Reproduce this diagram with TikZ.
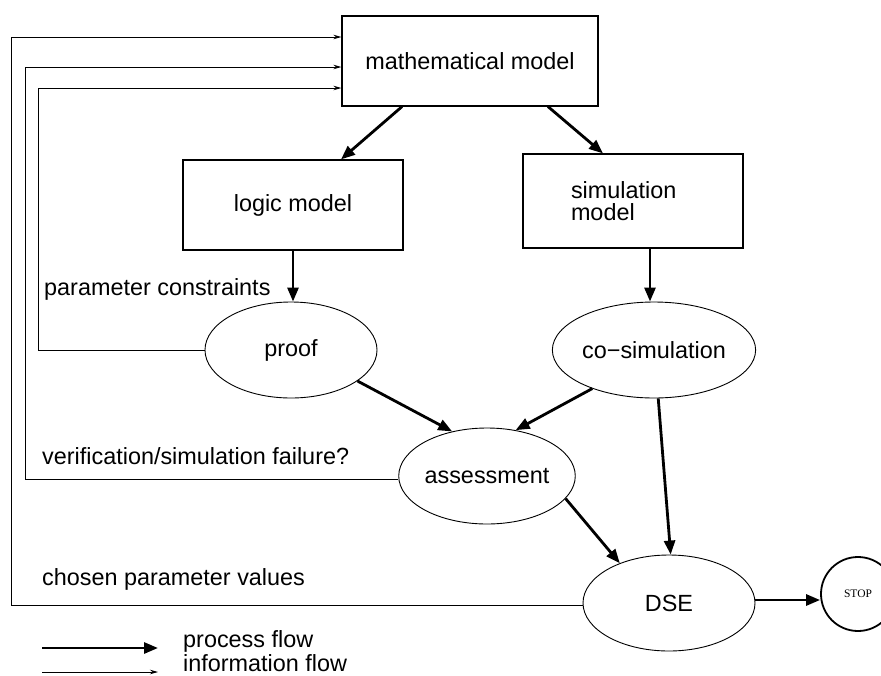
\documentclass[tikz,border=0pt]{standalone}
\usepackage{fontspec}
\setmainfont{Liberation Sans}
\newfontfamily\stopfont{Liberation Serif}
\usetikzlibrary{shapes.geometric,arrows.meta}
\begin{document}
\begin{tikzpicture}[x=1pt,y=-1pt,
  every node/.style={font=\fontsize{23.4}{20}\selectfont},
  boxnode/.style={draw, line width=1.2pt, inner sep=0pt},
  ellnode/.style={draw, ellipse, line width=0.9pt, inner sep=0pt, minimum width=172pt, minimum height=96pt},
  proc/.style={line width=2.8pt, -{Triangle[length=14pt,width=11pt]}},
  info/.style={line width=0.9pt, -{Stealth[length=8pt,width=4.5pt]}},
  lbl/.style={anchor=base west, inner sep=0pt}
]
\useasboundingbox (0,0) rectangle (881,675);

\node[boxnode, minimum width=256pt, minimum height=90pt] (math) at (470,61) {mathematical model};
\node[boxnode, minimum width=220pt, minimum height=90pt] (logic) at (293,205) {logic model};
\node[boxnode, minimum height=94pt, text width=124pt, inner xsep=48pt, align=left,
      font=\fontsize{23.4}{22}\selectfont] (simm) at (633,201) {simulation\\model};

\node[ellnode] (proof) at (291,350) {proof};
\node[ellnode] (cosim) at (654,350) {co\textminus simulation};
\node[ellnode] (assess) at (487,476) {assessment};
\node[ellnode] (dse) at (669,603) {DSE};
\node[draw, circle, line width=1.8pt, minimum size=74pt, inner sep=0pt, font=\stopfont\fontsize{11.5}{12}\selectfont] (stop) at (858,594) {STOP};

% process flow
\draw[proc] ([xshift=-68pt]math.south) -- ([xshift=48pt]logic.north);
\draw[proc] ([xshift=78pt]math.south) -- ([xshift=-30pt]simm.north);
\draw[proc] (logic.south) -- (logic.south |- proof.north);
\draw[proc] ([xshift=17pt]simm.south) -- ([xshift=17pt]simm.south |- cosim.north);
\draw[proc] (proof.-25) -- (assess.128);
\draw[proc] (cosim.212) -- (assess.58);
\draw[proc] (cosim.275) -- (dse.88);
\draw[proc] (assess.-16) -- (dse.141);
\draw[proc] ([yshift=3pt]dse.east) -- ([yshift=-6pt]stop.west);

% information flow
\draw[info] (proof.west) -| ([xshift=-303pt,yshift=-27pt]math.west) -- ([yshift=-27pt]math.west);
\draw[info] ([yshift=-3pt]assess.west) -| ([xshift=-316pt,yshift=-6pt]math.west) -- ([yshift=-6pt]math.west);
\draw[info] ([yshift=-2pt]dse.west) -| ([xshift=-330pt,yshift=24pt]math.west) -- ([yshift=24pt]math.west);

% labels
\node[lbl] (lpc) at (44,295) {parameter constraints};
\node[lbl] (lvf) at (42,464) {verification/simulation failure?};
\node[lbl] (lcp) at (42,585) {chosen parameter values};

% legend
\coordinate (lpa) at (42,648);
\coordinate (lpb) at (158,648);
\coordinate (lia) at (42,672);
\coordinate (lib) at (158,672);
\draw[proc] (lpa) -- (lpb);
\draw[info] (lia) -- (lib);
\node[lbl] (lgp) at (183,647) {process flow};
\node[lbl] (lgi) at (183,671) {information flow};
\end{tikzpicture}
\end{document}
